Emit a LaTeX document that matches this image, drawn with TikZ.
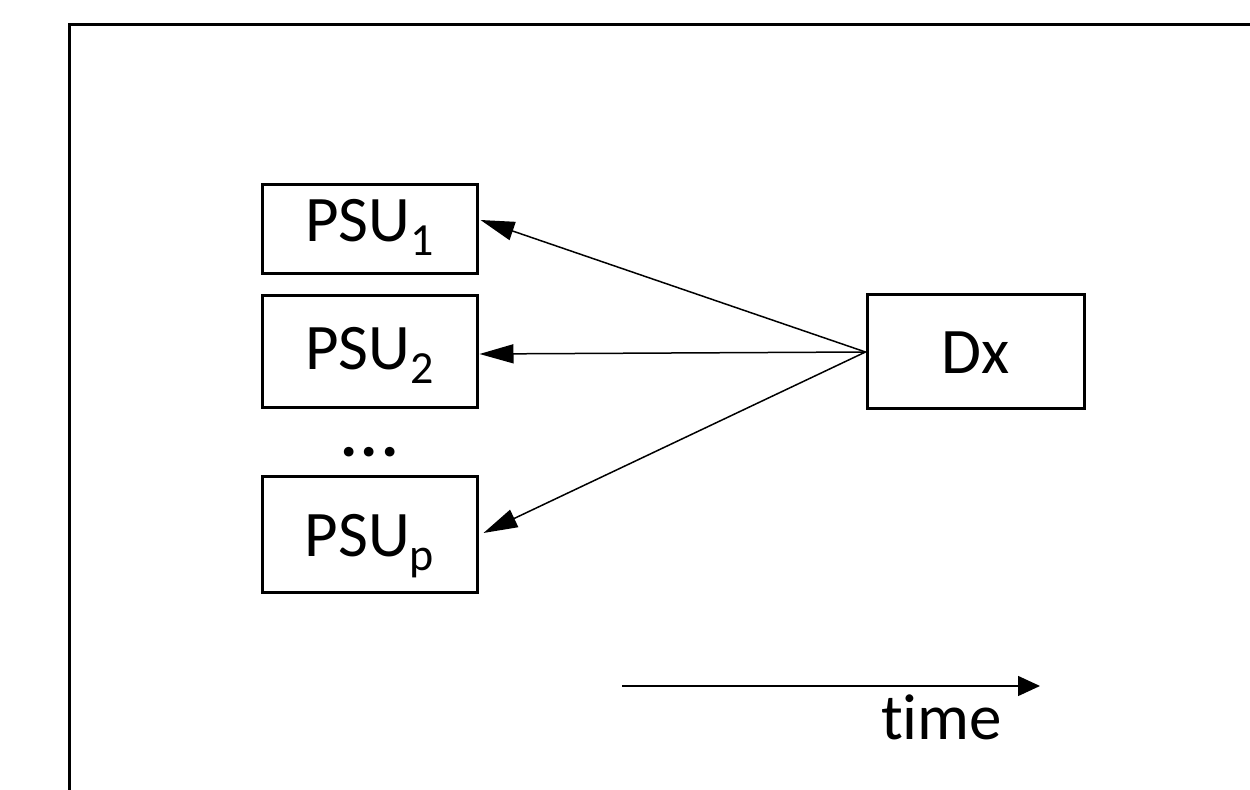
\documentclass[tikz,border=0pt]{standalone}
\usepackage{fontspec}
\setmainfont[Ligatures=NoCommon]{Carlito}
\usetikzlibrary{arrows.meta}
\newcommand\psub[1]{\raisebox{-7pt}{\fontsize{23}{23}\selectfont #1}}
\tikzset{
  box/.style={draw, line width=1.5pt, inner sep=0pt, minimum width=107.5pt, align=center},
  arr/.style={line width=0.75pt, -{Triangle[length=17pt, width=9.5pt]}},
  tarr/.style={line width=0.75pt, -{Triangle[length=11pt, width=10pt]}},
  frame/.style={line width=1.75pt}
}
\begin{document}
\begin{tikzpicture}[x=0.5pt, y=-0.5pt, font=\fontsize{32.5}{39}\selectfont]
\useasboundingbox (0,0) rectangle (1250,790);
\draw[frame] (69.5,790) -- (69.5,24.5) -- (1250,24.5);
\node[box, minimum height=44.5pt, text height=21pt, text depth=8.8pt] (P1) at (369.5,229.5) {PSU\psub{1}};
\node[box, minimum height=56pt, text height=21pt, text depth=3pt] (P2) at (369.5,352) {PSU\psub{2}};
\node[box, minimum height=58pt, text height=22pt, text depth=0pt] (Pp) at (369.5,535) {PSU\psub{p}};
\node[anchor=base, inner sep=0pt] (dots) at (369.5,457) {\bfseries .\kern1.5pt.\kern1.5pt.};
\node[box, minimum width=108.5pt, minimum height=57pt, text height=22pt, text depth=0pt] (Dx) at (975.5,352) {Dx};
\draw[arr] (Dx.west) -- ([shift={(2,-9.5)}]P1.east);
\draw[arr] (Dx.west) -- ([shift={(1,2)}]P2.east);
\draw[arr] (Dx.west) -- ([shift={(5,-2)}]Pp.east);
\coordinate (t0) at (622,686);
\coordinate (t1) at (1040,686);
\draw[tarr] (t0) -- (t1);
\node[anchor=base, inner sep=0pt] (time) at (941.5,740) {time};
\end{tikzpicture}
\end{document}
